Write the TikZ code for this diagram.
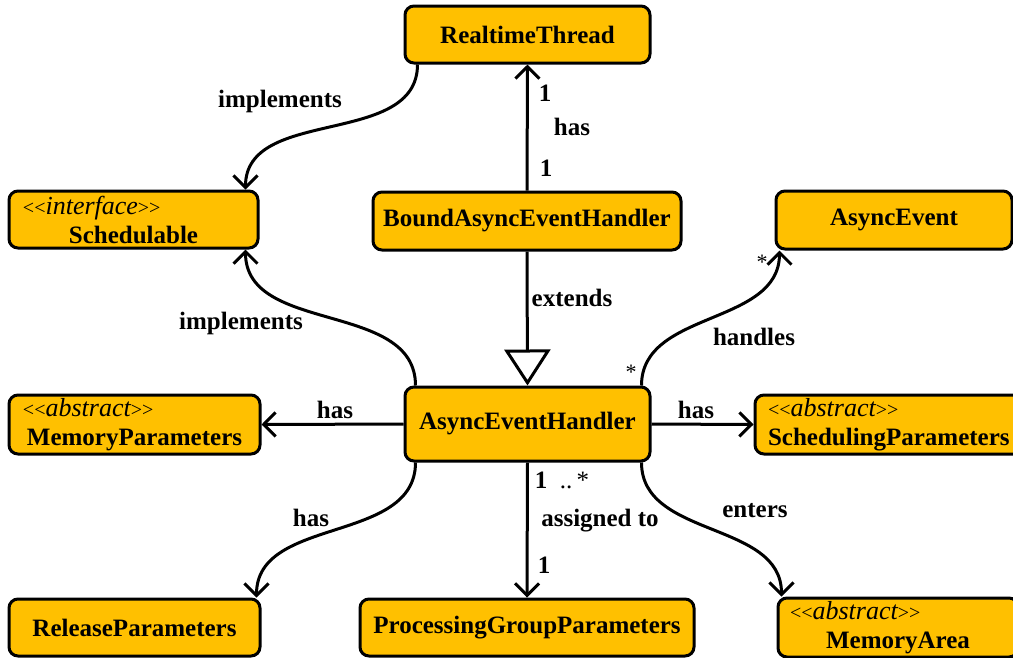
\documentclass[tikz,border=0pt]{standalone}
\usepackage{fontspec}
\setmainfont{Liberation Serif}
\usetikzlibrary{arrows.meta}
\definecolor{boxfill}{RGB}{255,192,0}
\tikzset{
  uml/.style={draw=black, line width=3pt, fill=boxfill, rounded corners=9pt,
    inner sep=0pt, font=\fontsize{25}{27}\selectfont\bfseries, align=center},
  lbl/.style={font=\fontsize{25}{27}\selectfont\bfseries, inner sep=0pt},
  star/.style={font=\fontsize{22}{24}\selectfont, inner sep=0pt},
  conn/.style={line width=3pt, -{Straight Barb[length=12pt,width=24pt]}},
  ext/.style={line width=3pt, -{Triangle[length=36pt,width=46pt,fill=white]}},
}
\newcommand{\stereo}[1]{{\fontsize{20}{20}\selectfont\mdseries\textless{}\textless}{\fontsize{26}{27}\selectfont\mdseries\itshape #1}{\fontsize{20}{20}\selectfont\mdseries\textgreater{}\textgreater}}
\begin{document}
\begin{tikzpicture}[x=1pt,y=1pt]
\useasboundingbox (0,0) rectangle (1013,-657);
\fill[white] (0,0) rectangle (1013,-657);
\clip (0,0) rectangle (1013,-657);

% boxes
\node[uml, minimum width=245pt, minimum height=57pt] (rt) at (527.5,-34.5) {RealtimeThread};
\node[uml, minimum width=249pt, minimum height=57pt, text width=221pt] (sched) at (133.5,-219.5)
  {\makebox[\linewidth][l]{\stereo{interface}}\\[2pt]Schedulable};
\node[uml, minimum width=308pt, minimum height=58pt] (baeh) at (527,-221) {BoundAsyncEventHandler};
\node[uml, minimum width=236pt, minimum height=58pt] (ae) at (894,-220) {AsyncEvent};
\node[uml, minimum width=251pt, minimum height=59pt, text width=223pt] (mp) at (134.5,-424.5)
  {\makebox[\linewidth][l]{\stereo{abstract}}\\[2pt]MemoryParameters};
\node[uml, minimum width=245pt, minimum height=74pt] (aeh) at (527.5,-424) {AsyncEventHandler};
\node[uml, minimum width=280pt, minimum height=59pt, text width=254pt] (sp) at (895,-424.5)
  {\makebox[\linewidth][l]{\stereo{abstract}}\\[2pt]\makebox[\linewidth][l]{SchedulingParameters}};
\node[uml, minimum width=251pt, minimum height=57pt] (rp) at (134.5,-627.5) {ReleaseParameters};
\node[uml, minimum width=334pt, minimum height=57pt] (pgp) at (527,-627.5) {ProcessingGroupParameters};
\node[uml, minimum width=240pt, minimum height=59pt, text width=216pt] (ma) at (898,-627.5)
  {\makebox[\linewidth][l]{\stereo{abstract}}\\[2pt]MemoryArea};

% connectors
\draw[conn] (baeh.north) -- (rt.south);
\draw[ext] (baeh.south) -- (aeh.north);
\draw[conn] ([xshift=-110pt]rt.south) to[out=-90,in=90] ([xshift=-14pt]sched.north east);
\draw[conn] ([xshift=12pt]aeh.north west) to[out=90,in=-90] ([xshift=-14pt]sched.south east);
\draw[conn] ([xshift=-10pt]aeh.north east) to[out=90,in=-90] ([xshift=5pt]ae.south west);
\draw[conn] (aeh.west) -- (mp.east);
\draw[conn] (aeh.east) -- (sp.west);
\draw[conn] ([xshift=12pt]aeh.south west) to[out=-90,in=90] ([xshift=-5pt]rp.north east);
\draw[conn] (aeh.south) -- (pgp.north);
\draw[conn] ([xshift=-10pt]aeh.south east) to[out=-90,in=90] ([xshift=5pt]ma.north west);

% labels
\node[lbl] (l1) at (280,-101) {implements};
\node[lbl] (l2) at (545,-93) {1};
\node[lbl] (l3) at (572,-127) {has};
\node[lbl] (l4) at (546,-168) {1};
\node[lbl] (l5) at (572,-298) {extends};
\node[lbl] (l6) at (241,-323) {implements};
\node[star] (l7) at (631,-372) {*};
\node[star] (l8) at (762,-262) {*};
\node[lbl] (l9) at (754,-337) {handles};
\node[lbl] (l10) at (335,-410) {has};
\node[lbl] (l11) at (696,-410) {has};
\node[lbl] (l12) at (311,-518) {has};
\node[lbl] (l13) at (562,-480) {1\ \ {\mdseries ..\,*}};
\node[lbl] (l14) at (600,-521) {assigned to};
\node[lbl] (l15) at (544,-565) {1};
\node[lbl] (l16) at (755,-511) {enters};
\end{tikzpicture}
\end{document}
